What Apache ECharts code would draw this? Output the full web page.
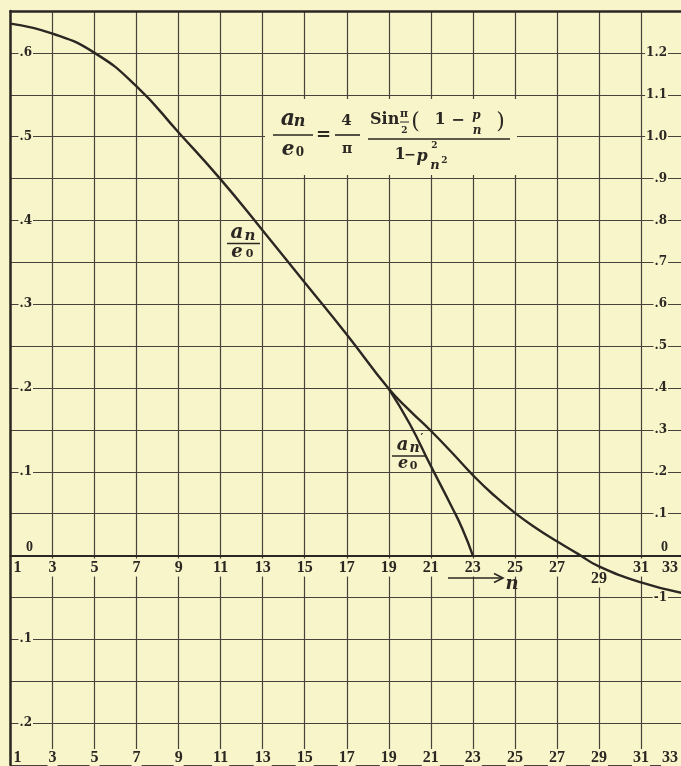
<!DOCTYPE html>
<html>
<head>
<meta charset="utf-8">
<script src="https://cdn.jsdelivr.net/npm/echarts@6/dist/echarts.min.js"></script>
<style>
  html, body { margin: 0; padding: 0; background: #f9f5cb; }
  #chart { width: 681px; height: 766px; }
</style>
</head>
<body>
<div id="chart"></div>
<script>
// Harmonic order n (horizontal) and amplitude ratio a_n / e_0 (left scale)
const nMain = [1, 3, 5, 7, 9, 11, 13, 15, 17, 19, 20, 21, 22, 23, 24, 25, 26, 27, 28, 29, 31, 33];
const aMain = [0.635, 0.623, 0.600, 0.560, 0.505, 0.449, 0.388, 0.326, 0.264, 0.199,
               0.173, 0.149, 0.123, 0.096, 0.072, 0.051, 0.033, 0.017, 0.002, -0.013, -0.032, -0.045];

// Second branch a_n' / e_0, leaving the main curve at n = 19
const nPrime = [19, 20, 21, 22, 22.5, 23];
const aPrime = [0.199, 0.157, 0.107, 0.058, 0.032, 0];

// Tick labels
const nTickValues = [1, 3, 5, 7, 9, 11, 13, 15, 17, 19, 21, 23, 25, 27, 29, 31, 33];
const leftTickValues = [0.6, 0.5, 0.4, 0.3, 0.2, 0.1, 0, -0.1, -0.2];
const leftTickTexts  = ['.6', '.5', '.4', '.3', '.2', '.1', '0', '.1', '.2'];
const rightTickValues = [1.2, 1.1, 1.0, 0.9, 0.8, 0.7, 0.6, 0.5, 0.4, 0.3, 0.2, 0.1, 0, -0.1];
const rightTickTexts  = ['1.2', '1.1', '1.0', '.9', '.8', '.7', '.6', '.5', '.4', '.3', '.2', '.1', '0', '-1'];

// Axis ranges
const N_MIN = 1, N_MAX = 33;
const LEFT_MIN = -0.25, LEFT_MAX = 0.65;
const RIGHT_MIN = -0.5, RIGHT_MAX = 1.3;

const W = 681, H = 766;
const CREAM = '#f9f5cb';
const INK = '#2b2722';
const RULE = '#47433c';

function pairs(xs, ys) { return xs.map((x, i) => [x, ys[i]]); }
function lookup(values, texts, v) {
  for (let i = 0; i < values.length; i++) {
    if (Math.abs(values[i] - v) < 1e-6) return texts[i];
  }
  return null;
}

const yLabelRich = {
  b: { fontFamily: 'DejaVu Serif', fontWeight: 'bold', fontSize: 12, color: INK,
       backgroundColor: CREAM, padding: [1, 1], lineHeight: 13 },
  z: { fontFamily: 'Liberation Serif', fontWeight: 'bold', fontSize: 14, color: INK,
       padding: [0, 0, 16, 0] }
};
function yFmt(values, texts) {
  return function (v) {
    const t = lookup(values, texts, v);
    if (t === null) return '';
    return t === '0' ? '{z|0}' : '{b|' + t + '}';
  };
}

const xLabelRich = {
  b: { fontFamily: 'Liberation Serif', fontWeight: 'bold', fontSize: 16, color: INK,
       backgroundColor: CREAM, padding: [1, 1], lineHeight: 16 },
  f: { fontFamily: 'Liberation Serif', fontWeight: 'bold', fontSize: 16, color: INK,
       padding: [1, 0, 1, 3], lineHeight: 16 },
  e: { fontFamily: 'Liberation Serif', fontWeight: 'bold', fontSize: 16, color: INK,
       backgroundColor: CREAM, padding: [1, 5, 1, 1], lineHeight: 16 },
  g: { fontSize: 10, lineHeight: 11 }
};
function xFmt(lowered) {
  return function (v) {
    const k = nTickValues.findIndex(t => Math.abs(t - v) < 1e-6);
    if (k < 0) return '';
    const s = String(nTickValues[k]);
    if (k === 0) return '{f|' + s + '}';
    if (k === nTickValues.length - 1) return '{e|' + s + '}';
    if (lowered.indexOf(nTickValues[k]) >= 0) return '{g| }\n{b|' + s + '}';
    return '{b|' + s + '}';
  };
}

// Plot frame; the lower frame starts on the zero line of the left scale
const frame = { left: 10.5, right: -2, top: 11, bottom: 1 };
const frameHeight = H - frame.top - frame.bottom;
const zeroTop = frame.top + (LEFT_MAX - 0) / (LEFT_MAX - LEFT_MIN) * frameHeight;

// Text helpers for the formula and curve labels
function T(text, x, y, size, style, weight) {
  return {
    type: 'text', x: x, y: y, z: 101,
    style: {
      text: text,
      font: (style || 'normal') + ' ' + (weight || 'bold') + ' ' + size + 'px "DejaVu Serif"',
      fill: INK,
      align: 'center', verticalAlign: 'middle',
      textAlign: 'center', textVerticalAlign: 'middle'
    }
  };
}
function L(x1, y1, x2, y2, w) {
  return { type: 'line', z: 101, shape: { x1: x1, y1: y1, x2: x2, y2: y2 },
           style: { stroke: INK, lineWidth: w || 1.6 } };
}

const graphics = [
  // blank panel behind the formula
  { type: 'rect', z: 100, shape: { x: 265, y: 99, width: 252, height: 76 }, style: { fill: CREAM } },
  T('a', 288, 119, 22, 'italic'), T('n', 299.5, 122, 16, 'italic'),
  L(273, 135, 313, 135),
  T('e', 288, 150, 20, 'italic'), T('0', 300, 153, 12),
  T('=', 323.5, 135.5, 18),
  T('4', 346.5, 121, 15),
  L(335, 135, 360, 135),
  T('π', 347, 149, 14),
  { type: 'text', x: 370, y: 120, z: 101,
    style: { text: 'Sin', font: 'bold 16px "DejaVu Serif"', fill: INK,
             align: 'left', verticalAlign: 'middle', textAlign: 'left', textVerticalAlign: 'middle' } },
  T('π', 404, 114, 11), L(400, 122, 409, 122, 1), T('2', 404.5, 130.5, 9),
  T('(', 415.5, 122, 22, 'normal', 'normal'),
  T('1', 440, 120, 16), T('−', 458, 121, 16),
  T('p', 476.5, 115.5, 12, 'italic'), T('n', 477, 130.5, 12, 'italic'),
  T(')', 500.5, 122, 22, 'normal', 'normal'),
  L(368, 139, 510, 139),
  T('1', 400, 155, 16), T('−', 410, 155, 14), T('p', 422, 157, 16, 'italic'), T('2', 434.5, 146, 9),
  T('n', 435, 165.5, 13, 'italic'), T('2', 444.5, 161, 9),

  // label of the main curve
  T('a', 237, 233, 20, 'italic'), T('n', 250, 236, 15, 'italic'),
  L(227, 243.5, 260, 243.5),
  T('e', 237, 252.5, 18, 'italic'), T('0', 249.5, 254.5, 11),

  // label of the second branch
  T('a', 402.5, 445.5, 18, 'italic'), T('n', 414.5, 448, 14, 'italic'), T('′', 422, 438, 11),
  L(392, 456, 425, 456),
  T('e', 403, 464, 16, 'italic'), T('0', 413.5, 466, 11),

  // direction arrow for n
  L(448, 578, 502, 578, 1.6),
  { type: 'polyline', z: 101, shape: { points: [[494, 573.5], [503, 578], [494, 582.5]] },
    style: { stroke: INK, lineWidth: 1.6, fill: null } },
  T('n', 512, 584, 18, 'italic')
];

const chart = echarts.init(document.getElementById('chart'), null, { renderer: 'canvas' });

chart.setOption({
  backgroundColor: CREAM,
  animation: false,
  grid: [
    { left: frame.left, right: frame.right, top: frame.top, bottom: frame.bottom, outerBoundsMode: 'none', containLabel: false },
    { left: frame.left, right: frame.right, top: zeroTop, bottom: frame.bottom, outerBoundsMode: 'none', containLabel: false }
  ],
  xAxis: [
    {
      // top border and the vertical rules
      type: 'value', gridIndex: 0, position: 'top', min: N_MIN, max: N_MAX, interval: 2,
      axisLine: { show: true, onZero: false, lineStyle: { color: INK, width: 2.5 } },
      axisTick: { show: false },
      splitLine: { show: true, lineStyle: { color: RULE, width: 1.2 } },
      axisLabel: { show: false }
    },
    {
      // lower row of n labels
      type: 'value', gridIndex: 0, position: 'bottom', min: N_MIN, max: N_MAX, interval: 2,
      axisLine: { show: false, onZero: false },
      axisTick: { show: false },
      splitLine: { show: false },
      axisLabel: {
        inside: true, margin: -1, formatter: xFmt([]), rich: xLabelRich,
        alignMinLabel: 'left', alignMaxLabel: 'right', showMinLabel: true, showMaxLabel: true,
        hideOverlap: false
      }
    },
    {
      // zero line with the upper row of n labels
      type: 'value', gridIndex: 1, position: 'top', min: N_MIN, max: N_MAX, interval: 2,
      axisLine: { show: true, onZero: false, lineStyle: { color: INK, width: 2 } },
      axisTick: { show: false },
      splitLine: { show: false },
      axisLabel: {
        inside: true, margin: 4, formatter: xFmt([29]), rich: xLabelRich,
        alignMinLabel: 'left', alignMaxLabel: 'right', showMinLabel: true, showMaxLabel: true,
        hideOverlap: false
      }
    }
  ],
  yAxis: [
    {
      type: 'value', gridIndex: 0, position: 'left', min: LEFT_MIN, max: LEFT_MAX, interval: 0.05,
      axisLine: { show: true, onZero: false, lineStyle: { color: INK, width: 2.5 } },
      axisTick: { show: false },
      splitLine: { show: true, lineStyle: { color: RULE, width: 1.2 } },
      axisLabel: { inside: true, margin: 22.5, align: 'right',
                   formatter: yFmt(leftTickValues, leftTickTexts), rich: yLabelRich }
    },
    {
      type: 'value', gridIndex: 0, position: 'right', min: RIGHT_MIN, max: RIGHT_MAX, interval: 0.1,
      axisLine: { show: false, onZero: false },
      axisTick: { show: false },
      splitLine: { show: false },
      axisLabel: { inside: true, margin: 15, align: 'right',
                   formatter: yFmt(rightTickValues, rightTickTexts), rich: yLabelRich }
    },
    { type: 'value', gridIndex: 1, min: 0, max: 1, show: false }
  ],
  series: [
    {
      type: 'line', xAxisIndex: 0, yAxisIndex: 0, data: pairs(nMain, aMain),
      smooth: 0.5, showSymbol: false, z: 5,
      lineStyle: { color: INK, width: 2.4 }
    },
    {
      type: 'line', xAxisIndex: 0, yAxisIndex: 0, data: pairs(nPrime, aPrime),
      smooth: 0.5, showSymbol: false, z: 5,
      lineStyle: { color: INK, width: 2.4 }
    }
  ],
  graphic: { elements: graphics }
});
</script>
</body>
</html>
